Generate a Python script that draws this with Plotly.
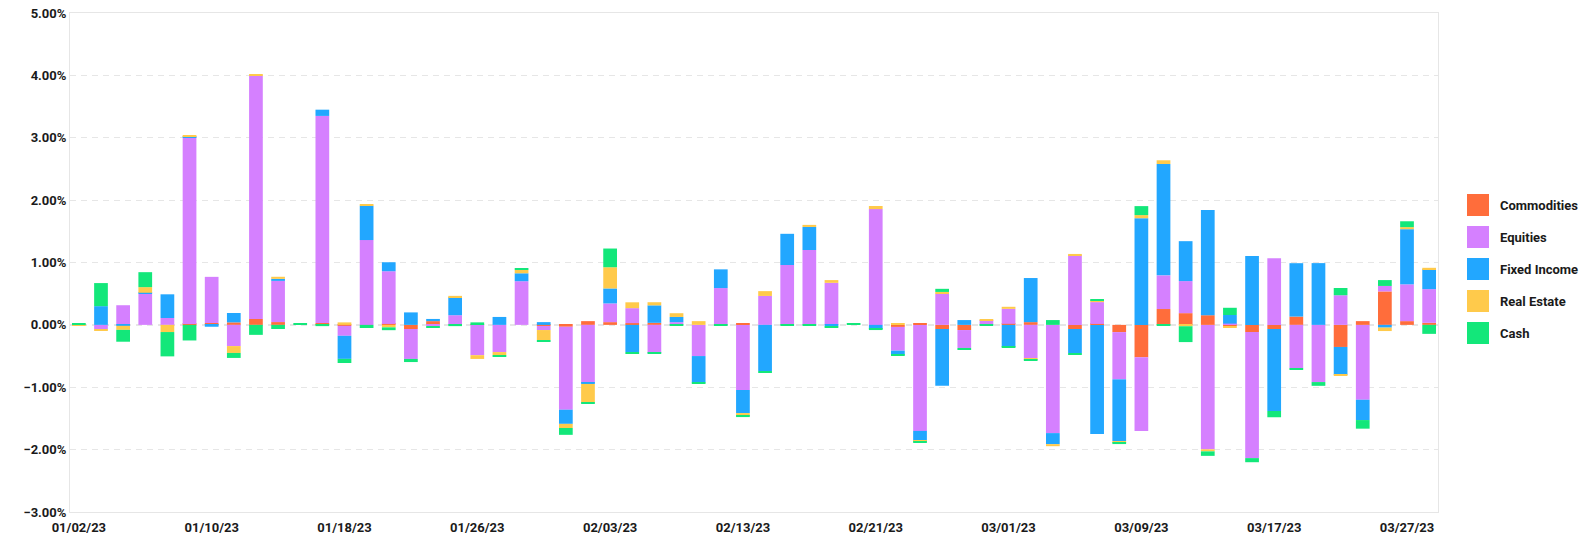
import plotly.graph_objects as go

dates = [
    "01/02/23", "01/03/23", "01/04/23", "01/05/23", "01/06/23", "01/09/23", "01/10/23", "01/11/23",
    "01/12/23", "01/13/23", "01/16/23", "01/17/23", "01/18/23", "01/19/23", "01/20/23", "01/23/23",
    "01/24/23", "01/25/23", "01/26/23", "01/27/23", "01/30/23", "01/31/23",
    "02/01/23", "02/02/23", "02/03/23", "02/06/23", "02/07/23", "02/08/23", "02/09/23", "02/10/23",
    "02/13/23", "02/14/23", "02/15/23", "02/16/23", "02/17/23", "02/20/23", "02/21/23", "02/22/23",
    "02/23/23", "02/24/23", "02/27/23", "02/28/23",
    "03/01/23", "03/02/23", "03/03/23", "03/06/23", "03/07/23", "03/08/23", "03/09/23", "03/10/23",
    "03/13/23", "03/14/23", "03/15/23", "03/16/23", "03/17/23", "03/20/23", "03/21/23", "03/22/23",
    "03/23/23", "03/24/23", "03/27/23", "03/28/23",
]

# values in percent
commodities = [
    0, 0, 0, 0, 0, 0.015, 0.03, 0.04, 0.094, 0.045, 0, 0.03, -0.015, 0, 0.015, -0.066,
    0.06, 0, 0.01, 0, 0, -0.017, -0.03, 0.06, 0.044, 0.028, 0.033, 0, 0, 0,
    0.017, 0, 0, 0, 0, 0, 0, -0.033, 0.028, -0.066, -0.083, 0,
    0.017, 0.044, 0, -0.066, 0.015, -0.116, -0.52, 0.254, 0.188, 0.155, -0.02, -0.116,
    -0.066, 0.133, 0, -0.354, 0.06, 0.536, 0.06, 0.033,
]
equities = [
    0, -0.07, 0.315, 0.50, 0.11, 2.99, 0.74, -0.34, 3.90, 0.66, 0, 3.32, -0.16, 1.36, 0.845, -0.48,
    -0.02, 0.155, -0.486, -0.436, 0.70, -0.066, -1.33, -0.93, 0.30, 0.24, -0.45, 0.044, -0.50, 0.59,
    -1.044, 0.464, 0.96, 1.20, 0.674, 0, 1.856, -0.38, -1.70, 0.50, -0.287, 0.077,
    0.24, -0.536, -1.735, 1.12, 0.35, -0.757, -1.18, 0.54, 0.514, -1.995, 0.02, -2.02,
    1.07, -0.696, -0.917, 0.475, -1.20, 0.088, 0.59, 0.54,
]
fixed_income = [
    0, 0.30, -0.015, 0.015, 0.38, 0.015, -0.03, 0.15, 0, 0.033, 0, 0.10, -0.37, 0.55, 0.144, 0.20,
    0.035, 0.29, 0, 0.127, 0.127, 0.044, -0.227, -0.017, 0.24, -0.436, 0.28, 0.083, -0.425, 0.30,
    -0.37, -0.74, 0.50, 0.37, -0.022, 0, -0.066, -0.066, -0.16, -0.91, 0.077, 0,
    -0.354, 0.707, -0.177, -0.387, -1.75, -0.99, 1.71, 1.785, 0.64, 1.685, 0.138, 1.105,
    -1.315, 0.856, 0.99, -0.447, -0.326, -0.044, 0.884, 0.32,
]
real_estate = [
    -0.01, -0.02, -0.065, 0.09, -0.115, 0.01, 0, -0.11, 0.015, 0.033, 0, 0, 0.04, 0.015, -0.04, 0,
    0, 0.02, -0.06, -0.05, 0.055, -0.16, -0.066, -0.30, 0.34, 0.094, 0.05, 0.06, 0.06, 0,
    -0.044, 0.077, 0, 0.033, 0.044, 0, 0.05, 0.03, -0.017, 0.028, 0, 0.017,
    0.033, -0.017, -0.033, 0.017, 0.033, -0.028, 0.05, 0.06, -0.022, -0.033, -0.03, 0,
    0, 0, 0, -0.017, 0, -0.055, 0.033, 0.022,
]
cash = [
    0.02, 0.37, -0.19, 0.24, -0.39, -0.25, 0, -0.08, -0.16, -0.066, 0.015, -0.02, -0.066, -0.05, -0.045, -0.05,
    -0.03, -0.02, 0.03, -0.015, 0.017, -0.017, -0.11, -0.017, 0.30, -0.017, -0.017, -0.017, -0.017, -0.017,
    -0.02, -0.017, -0.017, -0.017, -0.017, 0.015, -0.017, -0.017, -0.017, 0.05, -0.033, -0.017,
    -0.017, -0.017, 0.077, -0.017, 0.017, -0.02, 0.144, -0.017, -0.254, -0.072, 0.116, -0.066,
    -0.10, -0.022, -0.06, 0.116, -0.138, 0.094, 0.094, -0.144,
]

series_names = ["Commodities", "Equities", "Fixed Income", "Real Estate", "Cash"]
series_values = [commodities, equities, fixed_income, real_estate, cash]
series_colors = ["#FF6D3B", "#D580FF", "#22A7FF", "#FFCA4B", "#13E77A"]

tick_dates = dates[::6]

FONT = "Roboto"
TXT = "#1a1a1a"

fig = go.Figure()
for name, vals, col in zip(series_names, series_values, series_colors):
    fig.add_trace(go.Bar(
        x=dates, y=vals, name=name, marker=dict(color=col, line=dict(width=0)),
        showlegend=False,
        hovertemplate="%{x}<br>" + name + ": %{y:.2f}%<extra></extra>",
    ))

# The page body adds an 8px margin, so the figure is offset to fit the window.
W, H = 1573, 540
ml, mr, mt, mb = 62, 143, 5, 36
pw = W - ml - mr
ph = H - mt - mb

shapes = [dict(type="line", xref="paper", yref="y", x0=0, x1=1, y0=0, y1=0,
               line=dict(color="#e6e6e6", width=2, dash="6px,5px"), layer="below")]
annotations = []
legend_y0 = 197
for k, (name, col) in enumerate(zip(series_names, series_colors)):
    cy = legend_y0 + 32 * k
    yc = (H - mb - cy) / ph
    half = 11 / ph
    x0 = (1459 - ml) / pw
    x1 = (1481 - ml) / pw
    shapes.append(dict(type="rect", xref="paper", yref="paper", x0=x0, x1=x1,
                       y0=yc - half, y1=yc + half, fillcolor=col, line=dict(width=0)))
    annotations.append(dict(xref="paper", yref="paper", x=(1490 - ml) / pw, y=yc,
                            xanchor="left", yanchor="middle", text=name, showarrow=False,
                            font=dict(family=FONT, size=13, color=TXT, weight="bold")))

fig.update_layout(
    barmode="relative",
    bargap=0.38,
    width=W, height=H,
    margin=dict(l=ml, r=mr, t=mt, b=mb, autoexpand=False),
    paper_bgcolor="white",
    plot_bgcolor="white",
    showlegend=False,
    shapes=shapes,
    annotations=annotations,
    font=dict(family=FONT, size=13, color=TXT),
    xaxis=dict(
        type="category",
        automargin=False,
        range=[-0.4, len(dates) - 0.6],
        tickmode="array",
        tickvals=tick_dates,
        ticktext=tick_dates,
        showgrid=False,
        showline=True, mirror=True, linecolor="#e6e6e6", linewidth=1,
        ticks="",
        ticklabelstandoff=3,
        tickfont=dict(family=FONT, size=13, color=TXT, weight="bold"),
    ),
    yaxis=dict(
        automargin=False,
        range=[-3, 5],
        dtick=1,
        tick0=0,
        tickformat=".2f",
        ticksuffix="%",
        ticklabeloverflow="allow",
        showgrid=True, gridcolor="#e6e6e6", gridwidth=1, griddash="6px,5px",
        zeroline=False,
        showline=True, mirror=True, linecolor="#e6e6e6", linewidth=1,
        ticks="",
        ticklabelstandoff=0,
        tickfont=dict(family=FONT, size=13, color=TXT, weight="bold"),
    ),
)

fig.write_html("out.html")
